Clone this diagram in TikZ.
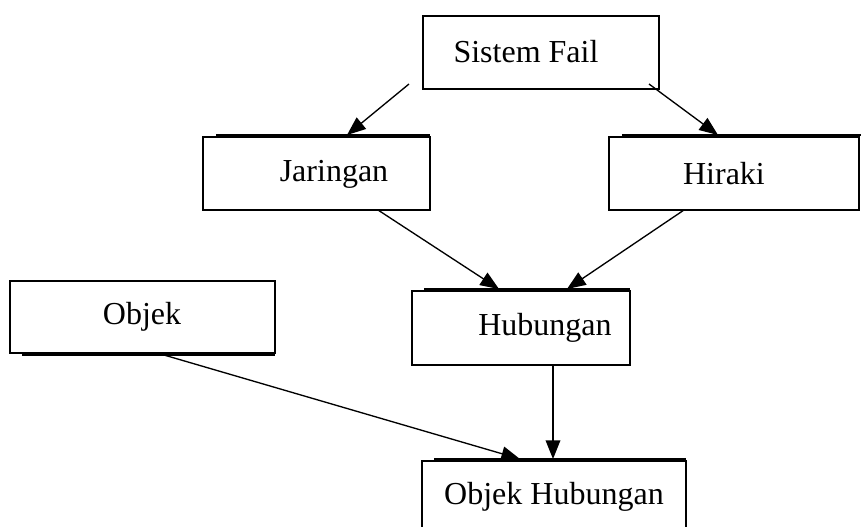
\documentclass[tikz,border=0pt]{standalone}
\usepackage{fontspec}
\setmainfont{Liberation Serif}
\usetikzlibrary{arrows.meta}
\begin{document}
\begin{tikzpicture}[x=0.75pt,y=-0.75pt,
  box/.style={draw,line width=1.3pt,fill=white,inner sep=0pt},
  label/.style={font=\fontsize{24}{27}\selectfont,inner sep=0pt},
  ledge/.style={line width=1.1pt},
  conn/.style={line width=1pt,-{Triangle[length=14pt,width=11pt]}}]
\useasboundingbox (0,0) rectangle (861,526);

% raised edges behind the boxes
\draw[ledge] (216,135) -- (430,135);
\draw[ledge] (622,135) -- (861,135);
\draw[ledge] (424,289) -- (630,289);
\draw[ledge] (434,459) -- (686,459);
\draw[ledge] (22,355) -- (275,355);

% boxes
\draw[box] (423,16) rectangle (659,89);
\draw[box] (203,137) rectangle (430,210);
\draw[box] (609,137) rectangle (859,210);
\draw[box] (10,281) rectangle (275,353);
\draw[box] (412,291) rectangle (630,365);
\draw[box] (422,461) rectangle (686,534);

% captions
\node[label] (sf)  at (526,52)  {Sistem Fail};
\node[label] (jar) at (334,174) {Jaringan};
\node[label] (hir) at (724,174) {Hiraki};
\node[label] (obj) at (142,317) {Objek};
\node[label] (hub) at (545,328) {Hubungan};
\node[label] (oh)  at (554,497) {Objek Hubungan};

% connector anchors
\coordinate (sfL) at (409,84);
\coordinate (sfR) at (649,84);
\coordinate (jarT) at (347,135);
\coordinate (hirT) at (718,135);
\coordinate (jarB) at (378,210);
\coordinate (hirB) at (684,210);
\coordinate (hubTL) at (499,289);
\coordinate (hubTR) at (567,289);
\coordinate (hubB) at (553,365);
\coordinate (ohT) at (553,459);
\coordinate (objB) at (164,355);
\coordinate (ohTL) at (520,459);

\draw[conn] (sfL) -- (jarT);
\draw[conn] (sfR) -- (hirT);
\draw[conn] (jarB) -- (hubTL);
\draw[conn] (hirB) -- (hubTR);
\draw[conn] (hubB) -- (ohT);
\draw[conn] (objB) -- (ohTL);
\end{tikzpicture}
\end{document}
